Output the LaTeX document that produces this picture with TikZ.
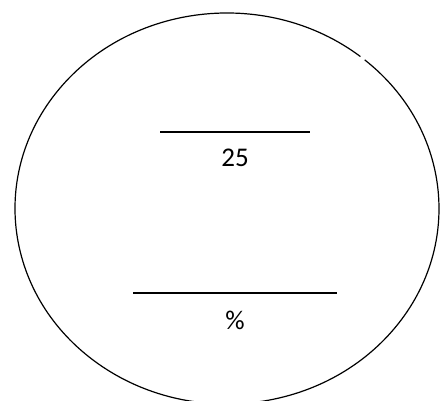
\documentclass[tikz,border=0pt]{standalone}
\usepackage{fontspec}
\setmainfont{Carlito}
\usepackage{tikz}
\usetikzlibrary{positioning}
\tikzset{
    rimline/.style={line width=1.2pt,black},
    blankline/.style={line width=1.4pt,black},
    entry/.style={inner sep=0pt,font=\fontsize{27}{31}\selectfont}
}

\begin{document}
\begin{tikzpicture}[x=1pt,y=1pt]
\useasboundingbox (0,0) rectangle (440,401);
\clip (0,0) rectangle (440,401);
% outer ring, with its small break at the top right
\coordinate (O) at (227,192.5);
\draw[rimline] (O) ++(51:212 and 195.5) arc[start angle=51,end angle=409.5,x radius=212,y radius=195.5];
% the two blanks
\draw[blankline] (160,269) -- (310,269);
\node[entry] (val) at (235,243) {25};
\draw[blankline] (133,108) -- (337,108);
\node[entry] (unit) at (235,81) {\%};
\end{tikzpicture}
\end{document}
